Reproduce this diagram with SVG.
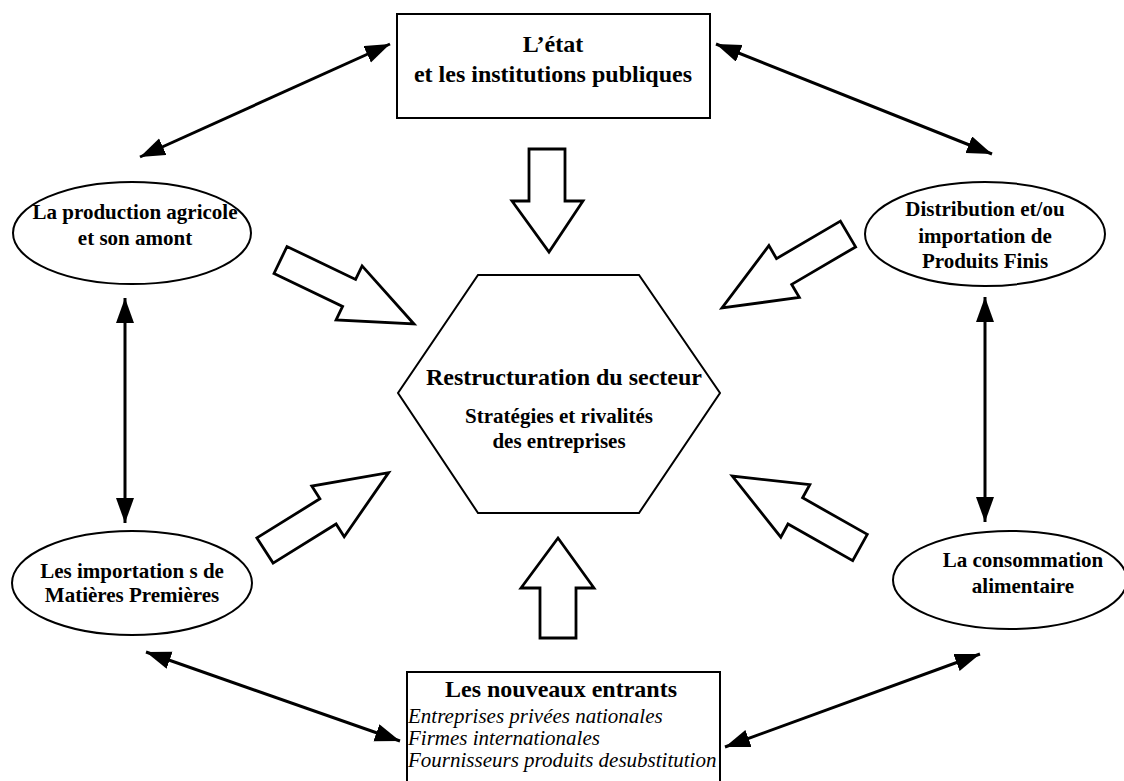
<svg xmlns="http://www.w3.org/2000/svg" width="1124" height="781" viewBox="0 0 1124 781">
<defs>
<style>
.shape{fill:#fff;stroke:#000;stroke-width:2}
.blk{fill:#fff;stroke:#000;stroke-width:2.8;stroke-linejoin:miter}
.con{stroke:#000;stroke-width:3;fill:none;marker-start:url(#ah);marker-end:url(#ah)}
.t{font-family:"Liberation Serif","Times New Roman",serif;font-weight:bold;fill:#000;text-anchor:middle}
.i{font-family:"Liberation Serif","Times New Roman",serif;font-style:italic;fill:#000}
</style>
<marker id="ah" markerUnits="userSpaceOnUse" markerWidth="28" markerHeight="20" refX="25" refY="9" orient="auto-start-reverse" viewBox="0 0 28 20">
<path d="M0,0 L25,9 L0,18 Z" fill="#000"/>
</marker>
<clipPath id="bclip"><rect x="407" y="672" width="313" height="109"/></clipPath>
</defs>
<rect width="1124" height="781" fill="#fff"/>

<g id="connectors">
<line class="con" x1="140" y1="157" x2="390" y2="44"/>
<line class="con" x1="716" y1="44" x2="992" y2="154"/>
<line class="con" x1="125" y1="298" x2="125" y2="523"/>
<line class="con" x1="985" y1="297" x2="985" y2="522"/>
<line class="con" x1="146" y1="652" x2="400" y2="741"/>
<line class="con" x1="725" y1="747" x2="980" y2="654"/>
<polygon class="blk" points="529,149 565,149 565,201 583,201 549,252 512,201 529,201"/>
<polygon class="blk" points="540,638 576,638 576,588 594,588 558,538 521,588 540,588"/>
<polygon class="blk" points="274,273.5 342.6,306.4 336.1,319.9 414,324 362.1,265.9 355.6,279.4 287,246.5"/>
<polygon class="blk" points="840.4,221.1 776.5,258.6 768.9,245.6 722,308 799.3,297.4 791.7,284.4 855.6,246.9"/>
<polygon class="blk" points="273.1,563.1 336.1,524 344.2,536.7 388.6,472.6 311.8,486.1 319.9,498.8 256.9,537.9"/>
<polygon class="blk" points="867.3,534.4 802.6,497.8 809.8,484.7 732.3,476.1 780.8,537.2 788,524 852.7,560.6"/>
</g>

<g id="etat">
<rect class="shape" x="397" y="14" width="313" height="104"/>
<text class="t" x="553" y="52" font-size="24">L’état</text>
<text class="t" x="553" y="82" font-size="24">et les institutions publiques</text>
</g>

<g id="production">
<ellipse class="shape" cx="132" cy="233" rx="119" ry="51"/>
<text class="t" x="135" y="219" font-size="21">La production agricole</text>
<text class="t" x="135" y="245" font-size="21">et son amont</text>
</g>

<g id="distribution">
<ellipse class="shape" cx="985" cy="234" rx="120" ry="52"/>
<text class="t" x="985" y="216" font-size="21">Distribution et/ou</text>
<text class="t" x="985" y="243" font-size="21">importation de</text>
<text class="t" x="985" y="268" font-size="21">Produits Finis</text>
</g>

<g id="secteur">
<polygon class="shape" points="478,275 639,275 720,393 639,513 478,513 398,393"/>
<text class="t" x="564" y="385" font-size="24">Restructuration du secteur</text>
<text class="t" x="559" y="423" font-size="21">Stratégies et rivalités</text>
<text class="t" x="559" y="448" font-size="21">des entreprises</text>
</g>

<g id="importations">
<ellipse class="shape" cx="132" cy="583" rx="120" ry="52"/>
<text class="t" x="132" y="578" font-size="21">Les importation s de</text>
<text class="t" x="132" y="602" font-size="21">Matières Premières</text>
</g>

<g id="consommation">
<ellipse class="shape" cx="1010" cy="580" rx="117" ry="49"/>
<text class="t" x="1023" y="567" font-size="21">La consommation</text>
<text class="t" x="1023" y="593" font-size="21">alimentaire</text>
</g>

<g id="entrants">
<rect class="shape" x="407" y="672" width="313" height="115"/>
<text class="t" x="561" y="697" font-size="24">Les nouveaux entrants</text>
<g clip-path="url(#bclip)">
<text class="i" x="408" y="723" font-size="21">Entreprises privées nationales</text>
<text class="i" x="408" y="745" font-size="21">Firmes internationales</text>
<text class="i" x="408" y="767" font-size="21">Fournisseurs produits desubstitution</text>
</g>
</g>
</svg>
